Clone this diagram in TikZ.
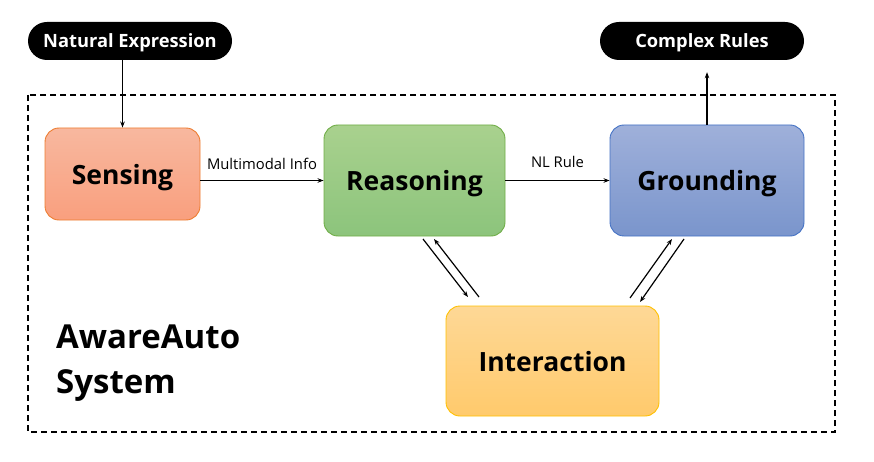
\documentclass[tikz,border=0pt]{standalone}
\usepackage{fontspec}
\setmainfont{Open Sans}
\usetikzlibrary{arrows.meta,calc}
\definecolor{sensT}{HTML}{F8B89F}
\definecolor{sensB}{HTML}{F99F7E}
\definecolor{sensD}{HTML}{ED7D31}
\definecolor{reasT}{HTML}{A9D18E}
\definecolor{reasB}{HTML}{8CC47C}
\definecolor{reasD}{HTML}{70AD47}
\definecolor{grT}{HTML}{9FB0DA}
\definecolor{grB}{HTML}{7A95CC}
\definecolor{grD}{HTML}{4472C4}
\definecolor{intT}{HTML}{FED896}
\definecolor{intB}{HTML}{FFCA6C}
\definecolor{intD}{HTML}{FFC000}
\tikzset{
  stagebox/.style={rounded corners=14pt, line width=0.9pt, font=\fontsize{26.5}{30}\selectfont\bfseries, text=black, text depth=0pt},
  pill/.style={rounded corners=19pt, fill=black, text=white, minimum width=204pt, minimum height=38pt, font=\fontsize{18.3}{20}\selectfont\bfseries, inner sep=0pt, text depth=0pt},
  arr/.style={-{Stealth[length=6pt,width=4.5pt]}, line width=1.6pt},
  darr/.style={-{Stealth[length=6pt,width=4.5pt]}, line width=1.2pt},
  lbl/.style={font=\fontsize{14.8}{16}\selectfont, text=black},
}
\begin{document}
\begin{tikzpicture}[x=1pt,y=-1pt]
\useasboundingbox (0,0) rectangle (874,462);
\draw[line width=1.6pt, dash pattern=on 6pt off 4pt] (28,95) rectangle (835,432);

\node[pill] (nat) at (130,41) {Natural Expression};
\node[pill] (cr) at (702,41) {Complex Rules};

\node[stagebox, draw=sensD, top color=sensT, bottom color=sensB, minimum width=155pt, minimum height=92pt] (sens) at (122.5,174) {Sensing};
\node[stagebox, draw=reasD, top color=reasT, bottom color=reasB, minimum width=181pt, minimum height=111pt] (reas) at (414.5,180.5) {Reasoning};
\node[stagebox, draw=grD, top color=grT, bottom color=grB, minimum width=194pt, minimum height=111pt] (gr) at (707,180.5) {Grounding};
\node[stagebox, draw=intD, top color=intT, bottom color=intB, minimum width=213pt, minimum height=110pt] (int) at (552.5,361) {Interaction};

\node[anchor=north west, align=left, font=\fontsize{33}{45}\selectfont\bfseries, inner sep=0pt] (sys) at (56,325) {AwareAuto\\System};

\draw[arr] (sens.north |- nat.south) -- (sens.north);
\draw[arr, shorten >=12pt] (gr.north) -- (gr.north |- cr.south);
\draw[arr] (sens.east |- reas.west) -- node[lbl, above=7pt] (mm) {Multimodal Info} (reas.west);
\draw[arr] (reas.east) -- node[lbl, above=9pt] (nl) {NL Rule} (gr.west);

\coordinate (r1) at (423,239);
\coordinate (i1) at (468,297);
\coordinate (i2) at (479,297);
\coordinate (r2) at (434,239);
\coordinate (i3) at (630,298);
\coordinate (g3) at (672,239);
\coordinate (g4) at (684,239);
\coordinate (i4) at (640,302);
\draw[darr] (r1) -- (i1);
\draw[darr] (i2) -- (r2);
\draw[darr] (i3) -- (g3);
\draw[darr] (g4) -- (i4);
\end{tikzpicture}
\end{document}
